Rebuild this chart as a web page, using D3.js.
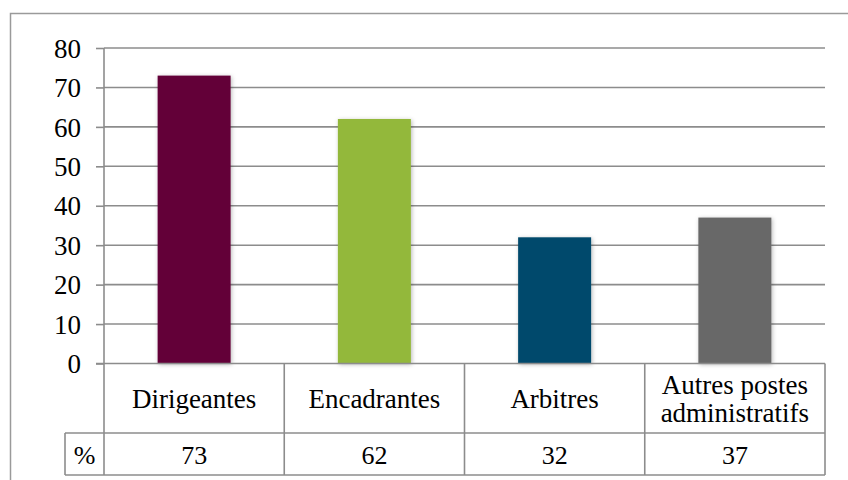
<!DOCTYPE html>
<html>
<head>
<meta charset="utf-8">
<script src="https://cdn.jsdelivr.net/npm/d3@7"></script>
<style>
  html, body { margin: 0; padding: 0; background: #fff; }
  svg { display: block; }
</style>
</head>
<body>
<svg id="chart" width="848" height="480"></svg>
<script>
const categories = ["Dirigeantes", "Encadrantes", "Arbitres", "Autres postes administratifs"];
const categoryLines = [["Dirigeantes"], ["Encadrantes"], ["Arbitres"], ["Autres postes", "administratifs"]];
const values = [73, 62, 32, 37];
const colors = ["#640039", "#93b83a", "#004a6c", "#676767"];
const yTicks = [0, 10, 20, 30, 40, 50, 60, 70, 80];
const seriesLabel = "%";

(function () {
const FONT = "Liberation Serif";
const svg = d3.select("#chart");
const W = 848, H = 480;
const pL = 104, pR = 825, pT = 48, pB = 363.5;
const row1 = 433, row2 = 475, pctLeft = 65;
const gridColor = "#8c8c8c";

const defs = svg.append("defs");
const f = defs.append("filter").attr("id", "shadow").attr("x", "-20%").attr("y", "-10%").attr("width", "140%").attr("height", "120%");
f.append("feDropShadow").attr("dx", 1).attr("dy", 1).attr("stdDeviation", 2).attr("flood-color", "#000").attr("flood-opacity", 0.28);

// outer frame
svg.append("rect").attr("x", 10.5).attr("y", 13.5).attr("width", W + 20).attr("height", H + 20)
  .attr("fill", "none").attr("stroke", "#9a9a9a").attr("stroke-width", 1.5);

const y = d3.scaleLinear().domain([0, 80]).range([pB, pT]);
const x = d3.scaleBand().domain(categories).range([pL, pR]).paddingInner(0).paddingOuter(0);
const barW = x.bandwidth() * 0.405;

// gridlines
svg.append("g").selectAll("line").data(yTicks.filter(d => d > 0)).join("line")
  .attr("x1", pL).attr("x2", pR)
  .attr("y1", d => y(d)).attr("y2", d => y(d))
  .attr("stroke", gridColor).attr("stroke-width", 1.6);

// y axis
const yAxis = d3.axisLeft(y).tickValues(yTicks).tickSize(8).tickPadding(15).tickFormat(d3.format("d"));
const ga = svg.append("g").attr("transform", `translate(${pL},0)`).call(yAxis);
ga.attr("font-family", null);
ga.select(".domain").remove();
ga.selectAll(".tick line").attr("stroke", gridColor).attr("stroke-width", 1.6);
ga.selectAll(".tick text").style("font-family", FONT).style("font-size", "27px").attr("fill", "#000").attr("dy", "0.34em");
svg.append("line").attr("x1", pL).attr("x2", pL).attr("y1", pT).attr("y2", row2)
  .attr("stroke", gridColor).attr("stroke-width", 1.6);

// bars
svg.append("g").selectAll("rect").data(values).join("rect")
  .attr("x", (d, i) => x(categories[i]) + (x.bandwidth() - barW) / 2)
  .attr("width", barW)
  .attr("y", d => y(d))
  .attr("height", d => y(0) - y(d))
  .attr("fill", (d, i) => colors[i])
  .attr("filter", "url(#shadow)");

// table
const tbl = svg.append("g").attr("stroke", gridColor).attr("stroke-width", 1.6);
tbl.append("line").attr("x1", pL - 8).attr("x2", pR).attr("y1", pB).attr("y2", pB);
tbl.append("line").attr("x1", pctLeft).attr("x2", pR).attr("y1", row1).attr("y2", row1);
tbl.append("line").attr("x1", pctLeft).attr("x2", pR).attr("y1", row2).attr("y2", row2);
tbl.append("line").attr("x1", pctLeft).attr("x2", pctLeft).attr("y1", row1).attr("y2", row2);
tbl.selectAll(".v").data(categories).join("line").attr("class", "v")
  .attr("x1", d => x(d) + x.bandwidth()).attr("x2", d => x(d) + x.bandwidth())
  .attr("y1", pB).attr("y2", row2);

// category labels
const cl = svg.append("g").selectAll("text").data(categories).join("text")
  .attr("text-anchor", "middle")
  .style("font-family", FONT).style("font-size", "27px").attr("fill", "#000")
  .attr("x", d => x(d) + x.bandwidth() / 2);
cl.each(function(d, i) {
  const lines = categoryLines[i];
  const t = d3.select(this);
  const lh = 28;
  const mid = (pB + row1) / 2 + 10;
  lines.forEach((ln, j) => {
    t.append("tspan").attr("x", x(d) + x.bandwidth() / 2)
      .attr("y", mid + (j - (lines.length - 1) / 2) * lh).text(ln);
  });
});

// values row
svg.append("g").selectAll("text").data(values).join("text")
  .attr("text-anchor", "middle")
  .style("font-family", FONT).style("font-size", "26px").attr("fill", "#000")
  .attr("x", (d, i) => x(categories[i]) + x.bandwidth() / 2)
  .attr("y", (row1 + row2) / 2 + 9.5)
  .text(d => d);
svg.append("text").attr("text-anchor", "middle")
  .style("font-family", FONT).style("font-size", "26px").attr("fill", "#000")
  .attr("x", (pctLeft + pL) / 2).attr("y", (row1 + row2) / 2 + 9.5).text(seriesLabel);
})();
</script>
</body>
</html>
